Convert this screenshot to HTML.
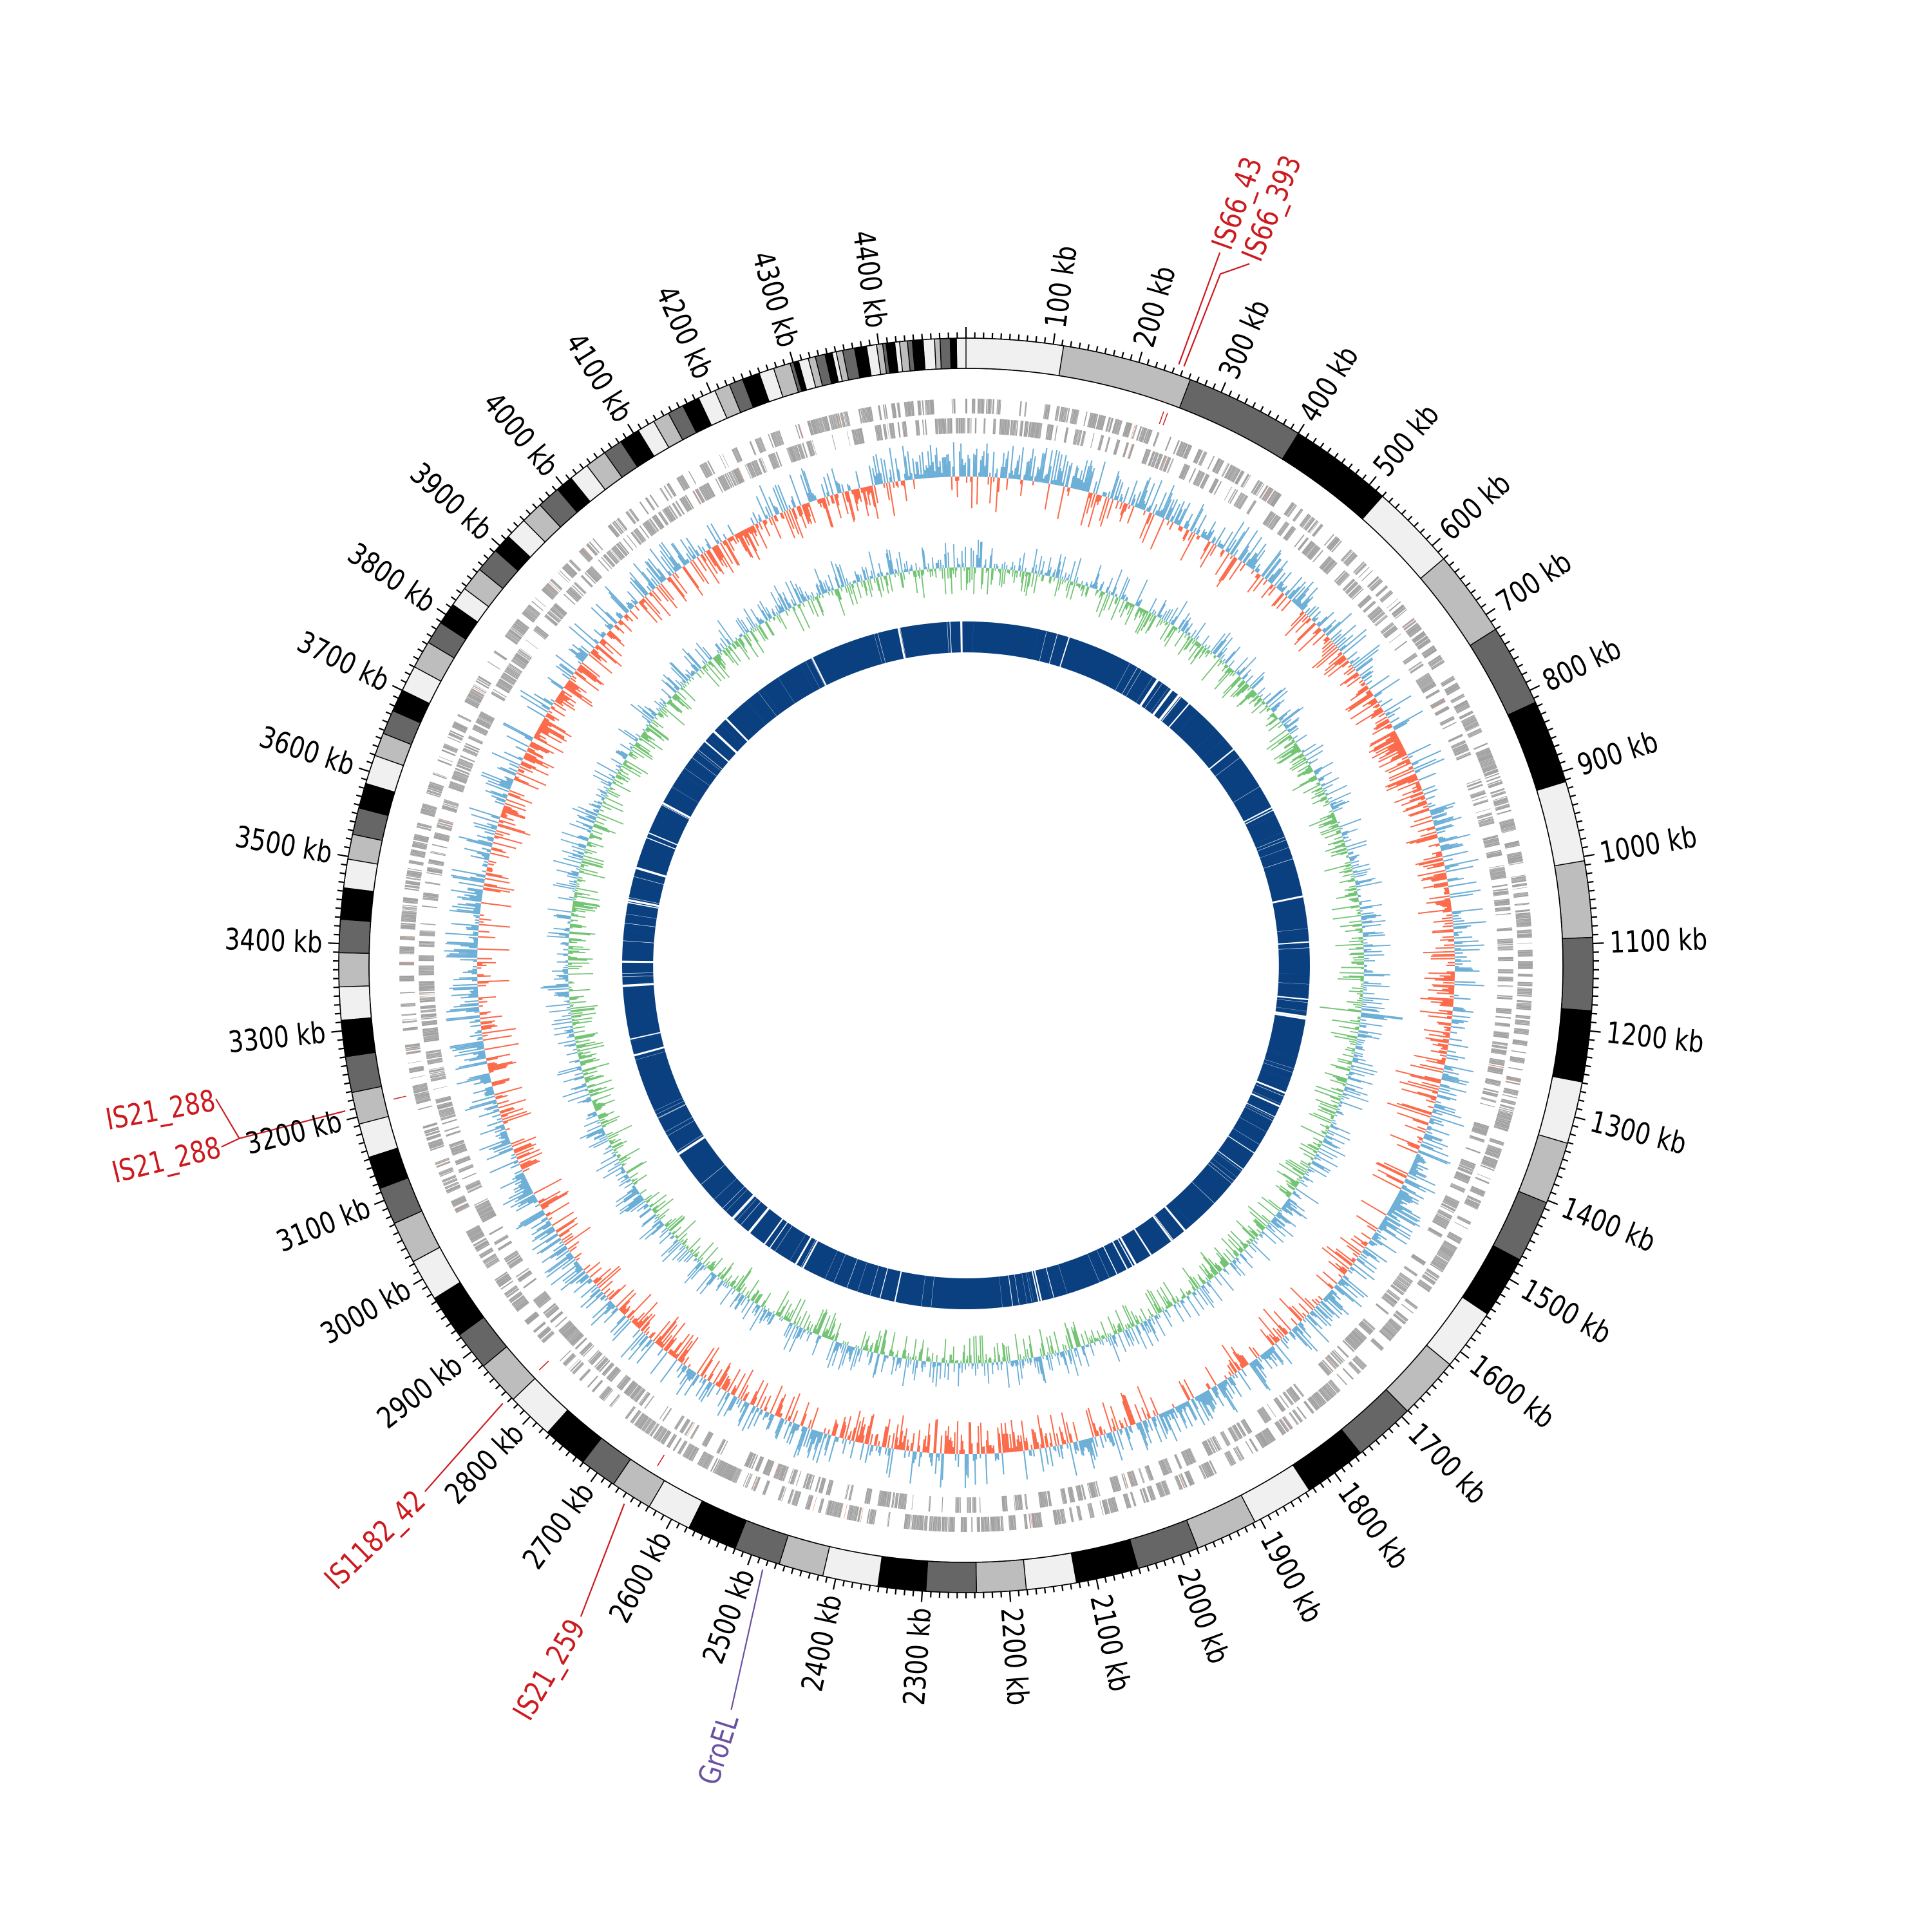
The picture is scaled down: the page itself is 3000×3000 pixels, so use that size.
<!DOCTYPE html>
<html><head><meta charset="utf-8"><style>
html,body{margin:0;padding:0;background:#fff;}
svg{display:block}
.k{font-family:"DejaVu Sans Condensed","DejaVu Sans","Liberation Sans",sans-serif;font-size:46px;fill:#000;dominant-baseline:central}
.r{fill:#cc1a1f}
.p{fill:#6a51a3}
.e{text-anchor:end}
</style></head><body>
<svg id="s" width="3000" height="3000" viewBox="0 0 3000 3000" xmlns="http://www.w3.org/2000/svg">
<rect width="3000" height="3000" fill="#fff"/>
<g transform="translate(1500,1499)">
<g id="data"></g>
<g>
<text class="k" transform="rotate(-82) translate(1000,0) scale(.9,1)">100 kb</text>
<text class="k" transform="rotate(-74) translate(1000,0) scale(.9,1)">200 kb</text>
<text class="k" transform="rotate(-66) translate(1000,0) scale(.9,1)">300 kb</text>
<text class="k" transform="rotate(-58) translate(1000,0) scale(.9,1)">400 kb</text>
<text class="k" transform="rotate(-50) translate(1000,0) scale(.9,1)">500 kb</text>
<text class="k" transform="rotate(-42) translate(1000,0) scale(.9,1)">600 kb</text>
<text class="k" transform="rotate(-34) translate(1000,0) scale(.9,1)">700 kb</text>
<text class="k" transform="rotate(-26) translate(1000,0) scale(.9,1)">800 kb</text>
<text class="k" transform="rotate(-18) translate(1000,0) scale(.9,1)">900 kb</text>
<text class="k" transform="rotate(-10) translate(1000,0) scale(.9,1)">1000 kb</text>
<text class="k" transform="rotate(-2) translate(1000,0) scale(.9,1)">1100 kb</text>
<text class="k" transform="rotate(6) translate(1000,0) scale(.9,1)">1200 kb</text>
<text class="k" transform="rotate(14) translate(1000,0) scale(.9,1)">1300 kb</text>
<text class="k" transform="rotate(22) translate(1000,0) scale(.9,1)">1400 kb</text>
<text class="k" transform="rotate(30) translate(1000,0) scale(.9,1)">1500 kb</text>
<text class="k" transform="rotate(38) translate(1000,0) scale(.9,1)">1600 kb</text>
<text class="k" transform="rotate(46) translate(1000,0) scale(.9,1)">1700 kb</text>
<text class="k" transform="rotate(54) translate(1000,0) scale(.9,1)">1800 kb</text>
<text class="k" transform="rotate(62) translate(1000,0) scale(.9,1)">1900 kb</text>
<text class="k" transform="rotate(70) translate(1000,0) scale(.9,1)">2000 kb</text>
<text class="k" transform="rotate(78) translate(1000,0) scale(.9,1)">2100 kb</text>
<text class="k" transform="rotate(86) translate(1000,0) scale(.9,1)">2200 kb</text>
<text class="k e" transform="rotate(274) translate(-1000,0) scale(.9,1)">2300 kb</text>
<text class="k e" transform="rotate(282) translate(-1000,0) scale(.9,1)">2400 kb</text>
<text class="k e" transform="rotate(290) translate(-1000,0) scale(.9,1)">2500 kb</text>
<text class="k e" transform="rotate(298) translate(-1000,0) scale(.9,1)">2600 kb</text>
<text class="k e" transform="rotate(306) translate(-1000,0) scale(.9,1)">2700 kb</text>
<text class="k e" transform="rotate(314) translate(-1000,0) scale(.9,1)">2800 kb</text>
<text class="k e" transform="rotate(322) translate(-1000,0) scale(.9,1)">2900 kb</text>
<text class="k e" transform="rotate(330) translate(-1000,0) scale(.9,1)">3000 kb</text>
<text class="k e" transform="rotate(338) translate(-1000,0) scale(.9,1)">3100 kb</text>
<text class="k e" transform="rotate(346) translate(-1000,0) scale(.9,1)">3200 kb</text>
<text class="k e" transform="rotate(354) translate(-1000,0) scale(.9,1)">3300 kb</text>
<text class="k e" transform="rotate(2) translate(-1000,0) scale(.9,1)">3400 kb</text>
<text class="k e" transform="rotate(10) translate(-1000,0) scale(.9,1)">3500 kb</text>
<text class="k e" transform="rotate(18) translate(-1000,0) scale(.9,1)">3600 kb</text>
<text class="k e" transform="rotate(26) translate(-1000,0) scale(.9,1)">3700 kb</text>
<text class="k e" transform="rotate(34) translate(-1000,0) scale(.9,1)">3800 kb</text>
<text class="k e" transform="rotate(42) translate(-1000,0) scale(.9,1)">3900 kb</text>
<text class="k e" transform="rotate(50) translate(-1000,0) scale(.9,1)">4000 kb</text>
<text class="k e" transform="rotate(58) translate(-1000,0) scale(.9,1)">4100 kb</text>
<text class="k e" transform="rotate(66) translate(-1000,0) scale(.9,1)">4200 kb</text>
<text class="k e" transform="rotate(74) translate(-1000,0) scale(.9,1)">4300 kb</text>
<text class="k e" transform="rotate(82) translate(-1000,0) scale(.9,1)">4400 kb</text>

<text class="k r" transform="rotate(-70.4) translate(1182,0) scale(.9,1)">IS66_43</text>
<text class="k r" transform="rotate(-68) translate(1182,0) scale(.9,1)">IS66_393</text>
<text class="k r e" transform="rotate(349.8) translate(-1185,0) scale(.9,1)">IS21_288</text>
<text class="k r e" transform="rotate(346.3) translate(-1192,0) scale(.9,1)">IS21_288</text>
<text class="k r e" transform="rotate(315.8) translate(-1182,0) scale(.9,1)">IS1182_42</text>
<text class="k r e" transform="rotate(300.6) translate(-1185,0) scale(.9,1)">IS21_259</text>
<text class="k p e" transform="rotate(287.5) translate(-1222,0) scale(.9,1)">GroEL</text>
</g>
</g>
</svg>
<script>
(function(){
var NS="http://www.w3.org/2000/svg";
var G=document.getElementById("data");
var D=Math.PI/180;
function Q(r,deg){var a=deg*D;return (r*Math.sin(a)).toFixed(1)+","+(-r*Math.cos(a)).toFixed(1);}
function P(r,kb){return Q(r,kb*0.08);}
function sec(r1,r2,k1,k2){var l=((k2-k1)*0.08>180)?1:0;return "M"+P(r2,k1)+"A"+r2+" "+r2+" 0 "+l+" 1 "+P(r2,k2)+"L"+P(r1,k2)+"A"+r1+" "+r1+" 0 "+l+" 0 "+P(r1,k1)+"Z";}
function add(tag,attrs){var e=document.createElementNS(NS,tag);for(var k in attrs)e.setAttribute(k,attrs[k]);G.appendChild(e);return e;}
var seed=12345;function rnd(){seed|=0;seed=seed+0x6D2B79F5|0;var t=Math.imul(seed^seed>>>15,1|seed);t=t+Math.imul(t^t>>>7,61|t)^t;return((t^t>>>14)>>>0)/4294967296;}

var cols=["#f0f0f0","#bdbdbd","#666666","#000000"];
var b=[0,112,262,400,520,620,720,815,912,1005,1093,1177,1259];
var k=1259,w=72;
for(var i=0;i<12;i++){k+=72;b.push(Math.round(k));}
b[b.length-1]=2123;
b.push(2181,2238,2296,2351);
k=2351;
while(k<4300){w=Math.max(10,56-(k-2351)*0.02);k+=w*(0.85+rnd()*0.3);if(k<4300)b.push(k);}
k=b[b.length-1];
while(k<4488){k+=4+rnd()*10;if(k<4490)b.push(k);}
b.push(4500);
var paths=[[],[],[],[]];
for(var i=0;i<b.length-1;i++){paths[i%4].push(sec(927,974,b[i],b[i+1]));}
for(var c=0;c<4;c++)add("path",{d:paths[c].join(""),fill:cols[c],stroke:"#000","stroke-width":"1.4"});
add("circle",{cx:0,cy:0,r:974,fill:"none",stroke:"#000","stroke-width":"1.6"});
add("circle",{cx:0,cy:0,r:927,fill:"none",stroke:"#000","stroke-width":"1.6"});
var td="";
for(var t=0;t<4500;t+=10){var L=(t%100==0)?17:9;td+="M"+P(974,t)+"L"+P(974+L,t);}
add("path",{d:td,stroke:"#000","stroke-width":"2.2",fill:"none"});

// gene track: dense, frequent strand alternation
var g1="",gr="";k=0;var strand=0;
while(k<4500){
 var len=0.5+rnd()*1.5;
 if(rnd()<0.22)strand=1-strand;
 var k2=Math.min(4500,k+len);
 var r1=strand?826:857,r2=strand?850:880;
 if(rnd()<0.01)gr+=sec(r1,r2,k,k+0.4);
 else g1+=sec(r1,r2,k,k2);
 k=k2+(rnd()<0.9?0.05+rnd()*0.2:0.3+rnd()*1.0);
}
add("path",{d:g1,fill:"#a0a0a0"});
add("path",{d:gr,fill:"#f46d43"});

var marks=[245,250,3210,2831,2645];var md="";
for(var i=0;i<marks.length;i++)md+=sec(893,913,marks[i],marks[i]+1.2);
add("path",{d:md,fill:"#cc1a1f"});

var base=759,N=2250,step=4500/N;
var ph=[rnd()*6.28,rnd()*6.28,rnd()*6.28,rnd()*6.28];
var bf="",of="",bl="",ol="";
for(var i=0;i<N;i++){
 var kk=i*step,a=kk/4500*6.2832;
 var slow=Math.sin(a*3+ph[0])*0.4+Math.sin(a*9+ph[1])*0.35+Math.sin(a*23+ph[2])*0.3+Math.sin(a*61+ph[3])*0.3;
 var s=(slow+(rnd()-0.5)*2.6+0.15)>0?1:-1;
 var m=6+Math.pow(rnd(),1.6)*48;
 if(kk>1280&&kk<1360&&s<0)m*=1.4;
 var f=Math.min(m,14+rnd()*10);
 if(s>0){bf+=sec(base,base+f,kk,kk+step);bl+="M"+P(base,kk+step/2)+"L"+P(base+m,kk+step/2);}
 else{of+=sec(base-f,base,kk,kk+step);ol+="M"+P(base,kk+step/2)+"L"+P(base-m,kk+step/2);}
}
add("path",{d:bf,fill:"#9ecae1"});
add("path",{d:of,fill:"#fc9272"});
add("path",{d:bl,stroke:"#6baed6","stroke-width":"2",fill:"none"});
add("path",{d:ol,stroke:"#fb6a4a","stroke-width":"2",fill:"none"});

base=618;N=2250;step=4500/N;
bf="";of="";bl="";ol="";
for(var i=0;i<N;i++){
 var kk=i*step;
 var s=rnd()<0.5?1:-1;
 var m=4+Math.pow(rnd(),2)*40;
 if(Math.abs(kk-1210)<3)m=65;
 if(s>0){bf+=sec(base,base+m*0.45,kk,kk+step);bl+="M"+P(base,kk+step/2)+"L"+P(base+m,kk+step/2);}
 else{of+=sec(base-m*0.45,base,kk,kk+step);ol+="M"+P(base,kk+step/2)+"L"+P(base-m,kk+step/2);}
}
add("path",{d:bf,fill:"#b7d7ea"});
add("path",{d:of,fill:"#a1d99b"});
add("path",{d:bl,stroke:"#6baed6","stroke-width":"1.8",fill:"none"});
add("path",{d:ol,stroke:"#74c476","stroke-width":"1.8",fill:"none"});

add("path",{d:sec(486,534,0,2250)+sec(486,534,2250,4500),fill:"#0b4080"});
var wd="";
for(var i=0;i<60;i++){var p=rnd()*4500;wd+=sec(484,536,p,p+1.2+rnd()*4.5);}
for(var i=0;i<90;i++){var p=rnd()*4500;wd+=sec(484,536,p,p+0.3+rnd()*0.6);}
add("path",{d:wd,fill:"#ffffff"});
var lb="";
for(var i=0;i<40;i++){var p=rnd()*4500;lb+=sec(486,534,p,p+0.2);}
add("path",{d:lb,fill:"#3a78b8"});

function pl(pts,col){var d="M"+pts.map(function(q){return Q(q[0],q[1]);}).join("L");add("path",{d:d,stroke:col,"stroke-width":"2.2",fill:"none"});}
var RC="#cc1a1f";
pl([[990,19.5],[1175,19.6]],RC);
pl([[990,20.0],[1144,20.2],[1175,22.0]],RC);
pl([[990,256.8],[1160,256.6],[1190,256.3]],RC);
pl([[1160,256.6],[1183,259.9]],RC);
pl([[990,226.6],[1172,225.8]],RC);
pl([[990,212.4],[1175,210.6]],RC);
pl([[990,198.6],[1212,197.5]],"#6a51a3");
})();
</script>
</body></html>
